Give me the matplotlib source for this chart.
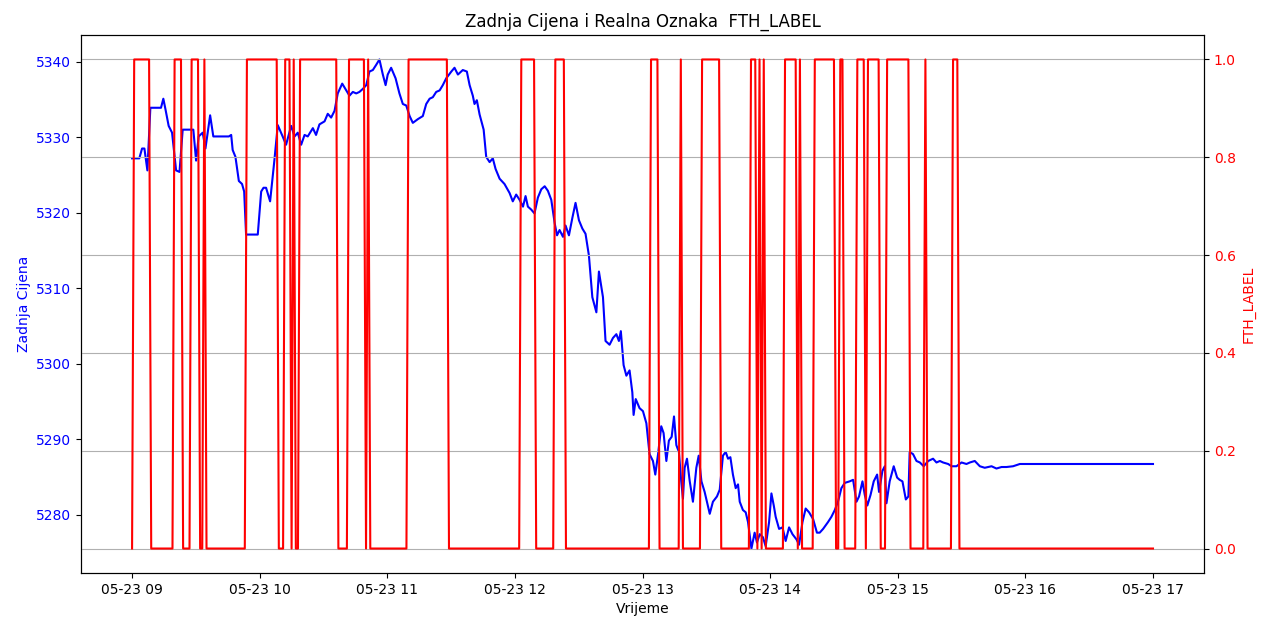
import pandas as pd
import matplotlib
matplotlib.use('Agg')
import matplotlib.pyplot as plt

# minute offsets from 09:00 and the last price
cijena_min = [0, 3.4, 4.7, 5.8, 6.6, 7.2, 8.6, 13.6, 14.7, 15.7, 17.2, 18.8, 20.7, 22.3, 23.8, 28.8,
              30.1, 31.3, 33.2, 34.5, 36.7, 38.2, 45.5, 46.6, 47.3, 48.6, 50.2, 51.7, 52.7, 53.6, 59.1,
              60.7, 61.8, 63.0, 64.9, 66.9, 68.5, 70.8, 72.4, 74.8, 76.4, 77.9, 79.5, 81.1, 82.6, 85.0,
              86.5, 88.1, 90.5, 92.0, 93.6, 95.2, 96.7, 98.8, 100.7, 102.2, 103.8, 105.4, 106.9, 108.5,
              110.1, 111.6, 113.2, 114.8, 116.3, 117.9, 119.2, 120.2, 121.8, 123.9, 125.7, 127.3, 128.9,
              130.5, 132.0, 134.4, 136.7, 138.3, 139.9, 141.4, 143.0, 144.6, 146.1, 147.7, 150.1, 151.6,
              153.2, 155.5, 157.4, 158.7, 160.2, 161.0, 162.1, 163.4, 165.3, 166.5, 168.1, 169.6, 170.9,
              172.8, 175.1, 177.5, 179.0, 180.6, 182.2, 183.8, 185.0, 186.1, 187.7, 189.2, 190.8, 192.4,
              194.0, 195.5, 197.1, 198.7, 199.8, 201.0, 202.6, 203.8, 205.4, 207.0, 208.5, 210.1, 211.7,
              213.2, 214.8, 216.4, 218.3, 219.5, 221.4, 222.6, 224.5, 226.1, 227.7, 228.9, 229.8, 231.1,
              232.4, 233.9, 235.2, 235.8, 236.8, 238.6, 240.2, 241.8, 243.3, 244.9, 246.0, 247.3, 248.8,
              249.9, 251.2, 252.4, 253.7, 254.8, 255.9, 257.1, 258.2, 259.0, 259.8, 260.9, 262.2, 263.7,
              265.3, 266.4, 267.7, 269.2, 271.6, 273.1, 275.0, 276.3, 277.8, 279.1, 280.2, 281.3, 282.5,
              283.8, 284.9, 285.7, 287.2, 288.5, 289.6, 291.2, 292.7, 293.8, 295.1, 296.6, 297.9, 299.5,
              300.6, 301.7, 302.6, 304.2, 305.8, 307.3, 308.9, 310.5, 312.4, 313.6, 315.2, 316.7, 318.3,
              320.2, 322.0, 323.3, 324.9, 327.2, 328.8, 330.4, 331.9, 333.5, 335.1, 337.4, 339.0, 340.6,
              341.8, 343.4, 344.5, 345.7, 347.2, 348.7, 350.3, 351.2, 352.8, 353.9, 354.7, 356.2, 358.1,
              359.7, 360.9, 362.2, 363.8, 365.0, 365.6, 367.2, 368.8, 370.4, 372.2, 374.3, 376.6, 378.2,
              379.8, 381.3, 383.7, 385.3, 387.6, 390.0, 392.3, 393.9, 396.2, 398.6, 400.9, 404.1, 406.4,
              408.8, 411.1, 414.2, 417.4, 480.0]
cijena = [5327.2, 5327.2, 5328.5, 5328.5, 5326.9, 5325.6, 5333.9, 5333.9, 5335.1, 5333.7, 5331.5, 5330.6,
          5325.6, 5325.4, 5331.0, 5331.0, 5326.9, 5330.1, 5330.6, 5328.5, 5332.9, 5330.1, 5330.1, 5330.3,
          5328.3, 5327.4, 5324.2, 5323.8, 5322.8, 5317.1, 5317.1, 5322.8, 5323.3, 5323.3, 5321.5, 5326.9,
          5331.6, 5330.1, 5329.0, 5331.5, 5330.1, 5330.6, 5329.0, 5330.3, 5330.1, 5331.2, 5330.3, 5331.7,
          5332.1, 5333.1, 5332.6, 5333.5, 5335.8, 5337.1, 5336.2, 5335.5, 5336.0, 5335.8, 5336.0, 5336.4,
          5336.9, 5338.7, 5338.9, 5339.6, 5340.3, 5338.3, 5336.9, 5338.3, 5339.2, 5337.8, 5335.8, 5334.4,
          5334.2, 5332.8, 5331.9, 5332.4, 5332.8, 5334.4, 5335.1, 5335.3, 5336.0, 5336.2, 5336.9, 5337.8,
          5338.7, 5339.2, 5338.3, 5338.9, 5338.7, 5336.9, 5335.5, 5334.4, 5334.9, 5333.0, 5331.0, 5327.4,
          5326.7, 5327.2, 5325.8, 5324.5, 5323.8, 5322.6, 5321.5, 5322.4, 5321.7, 5320.8, 5322.2, 5320.8,
          5320.4, 5319.9, 5322.0, 5323.1, 5323.5, 5322.9, 5321.7, 5318.6, 5317.0, 5317.7, 5316.8, 5318.3,
          5317.0, 5319.3, 5321.3, 5319.0, 5317.9, 5317.2, 5314.3, 5308.8, 5306.8, 5312.2, 5308.8, 5303.0,
          5302.5, 5303.4, 5303.9, 5303.0, 5304.3, 5299.8, 5298.4, 5299.1, 5296.2, 5293.2, 5295.3, 5294.1,
          5293.7, 5292.1, 5288.0, 5287.1, 5285.3, 5288.0, 5291.7, 5290.8, 5287.1, 5289.8, 5290.3, 5293.0,
          5289.2, 5288.3, 5284.4, 5282.1, 5286.2, 5287.4, 5284.4, 5281.7, 5286.2, 5287.8, 5284.4, 5283.0,
          5280.1, 5281.7, 5282.4, 5283.3, 5287.8, 5288.3, 5287.4, 5287.6, 5285.3, 5283.5, 5284.0, 5281.7,
          5280.6, 5280.3, 5279.0, 5275.5, 5277.6, 5276.3, 5277.4, 5277.0, 5275.8, 5279.0, 5282.8, 5281.2,
          5279.7, 5278.1, 5278.3, 5276.5, 5278.3, 5277.4, 5276.7, 5276.0, 5279.0, 5280.8, 5280.3, 5279.4,
          5277.6, 5277.6, 5278.1, 5279.0, 5279.7, 5280.6, 5281.7, 5283.5, 5284.2, 5284.4, 5284.6, 5281.7,
          5282.4, 5284.4, 5282.6, 5281.2, 5282.6, 5284.4, 5285.3, 5283.0, 5285.8, 5286.4, 5281.5, 5284.4,
          5286.4, 5284.9, 5284.6, 5284.4, 5282.0, 5282.4, 5288.3, 5288.0, 5287.1, 5286.9, 5286.4, 5287.1,
          5287.4, 5286.9, 5287.1, 5286.9, 5286.7, 5286.4, 5286.4, 5286.9, 5286.7, 5286.9, 5287.1, 5286.4,
          5286.2, 5286.4, 5286.1, 5286.3, 5286.3, 5286.4, 5286.7, 5286.7]

# FTH_LABEL corners (minute offset, value)
oznaka_min = [0, 1, 8, 9, 19, 20, 23, 24, 27, 28, 31, 32, 33, 34, 35, 53, 54, 68, 69, 71, 72, 74, 75, 76,
              77, 78, 79, 96, 97, 101, 102, 109, 110, 111, 112, 129, 130, 148, 149, 182, 183, 189, 190,
              198, 199, 203, 204, 243, 244, 247, 248, 257, 258, 259, 267, 268, 276, 277, 290, 291, 293,
              294, 295, 296, 297, 298, 306, 307, 312, 313, 314, 315, 320, 321, 330, 331, 332, 333, 334,
              335, 340, 341, 344, 345, 346, 351, 352, 354, 355, 365, 366, 372, 373, 374, 385, 386, 388,
              389, 480]
oznaka = [0, 1, 1, 0, 0, 1, 1, 0, 0, 1, 1, 0, 0, 1, 0, 0, 1, 1, 0, 0, 1, 1, 0, 1,
          0, 0, 1, 1, 0, 0, 1, 1, 0, 1, 0, 0, 1, 1, 0, 0, 1, 1, 0,
          0, 1, 1, 0, 0, 1, 1, 0, 0, 1, 0, 0, 1, 1, 0, 0, 1, 1,
          0, 1, 0, 1, 0, 0, 1, 1, 0, 1, 0, 0, 1, 1, 0, 0, 1, 1,
          0, 0, 1, 1, 0, 1, 1, 0, 0, 1, 1, 0, 0, 1, 0, 0, 1, 1,
          0, 0]

pocetak = pd.Timestamp('2024-05-23 09:00')
t_cijena = pocetak + pd.to_timedelta(cijena_min, unit='min')
t_oznaka = pocetak + pd.to_timedelta(oznaka_min, unit='min')

fig, ax1 = plt.subplots(figsize=(12.76, 6.23), dpi=100)
fig.subplots_adjust(left=0.0635, right=0.9436, top=0.9438, bottom=0.0803)

ax1.plot(t_cijena, cijena, color='b')
ax1.set_xlabel('Vrijeme')
ax1.set_ylabel('Zadnja Cijena', color='b')
ax1.tick_params(axis='y', labelcolor='b')

ax2 = ax1.twinx()
ax2.plot(t_oznaka, oznaka, color='r')
ax2.set_ylabel('FTH_LABEL', color='r')
ax2.tick_params(axis='y', labelcolor='r')
ax2.grid(True)

plt.title('Zadnja Cijena i Realna Oznaka  FTH_LABEL')
plt.savefig('out.png')
